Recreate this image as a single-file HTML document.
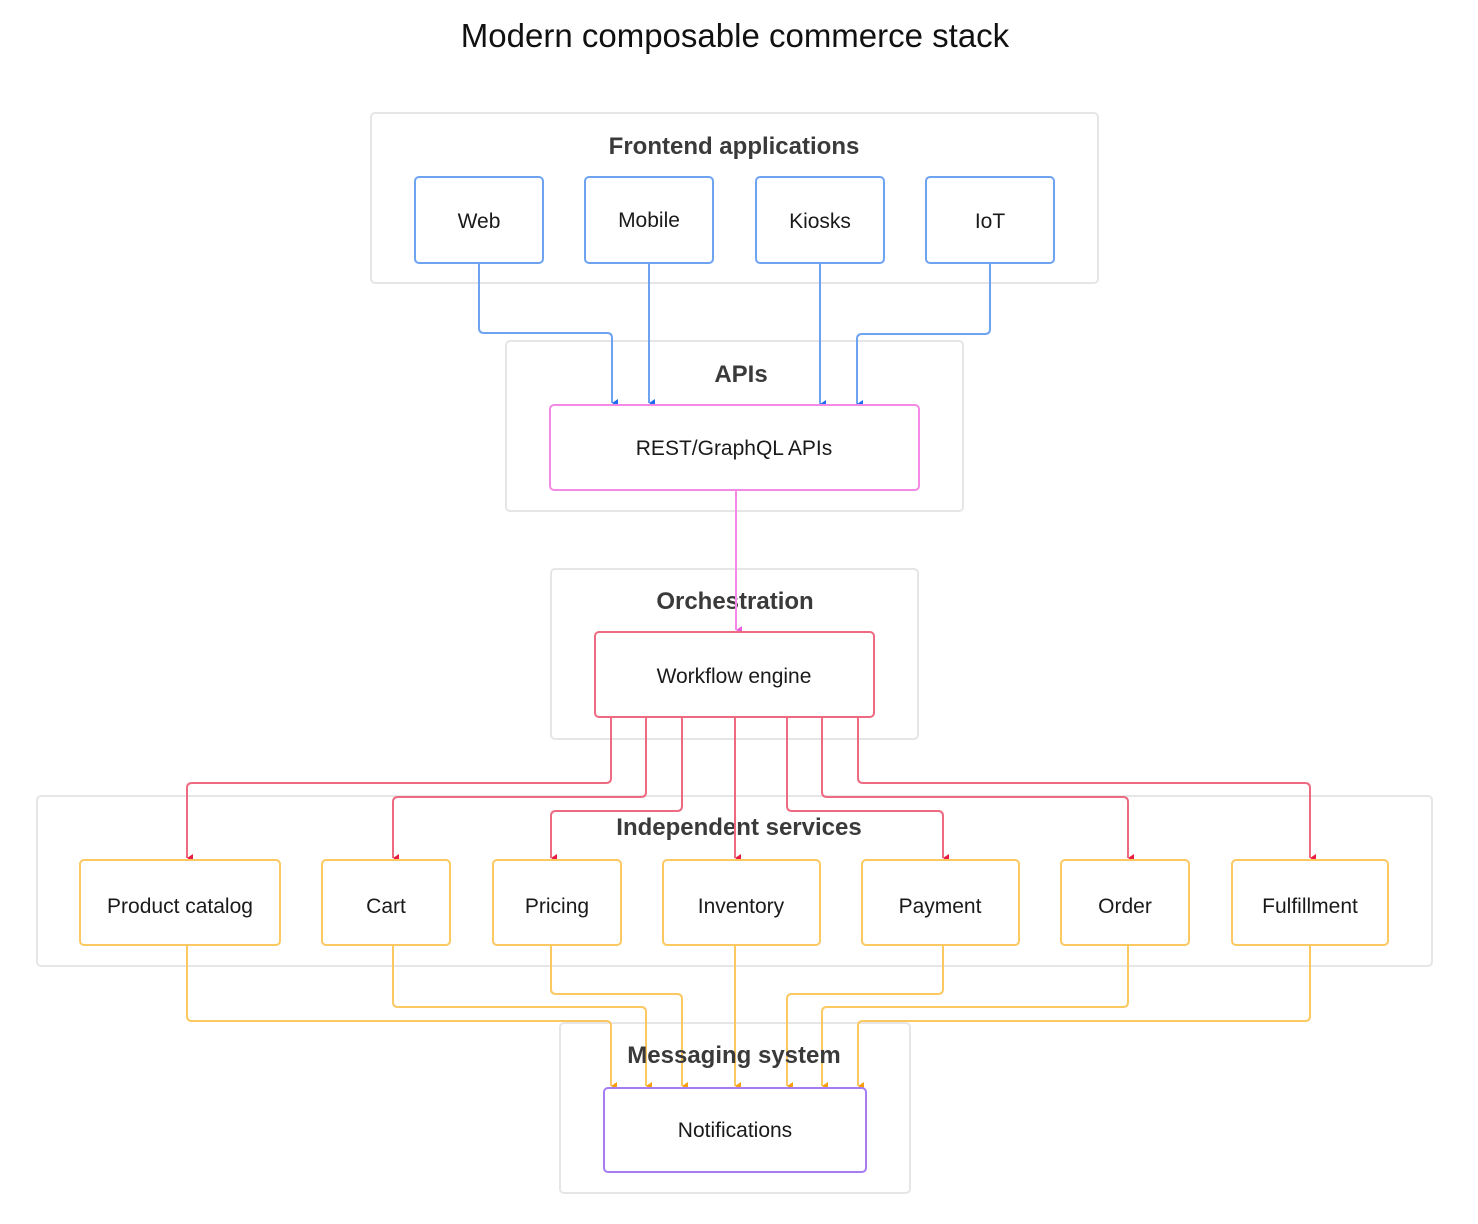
<!DOCTYPE html>
<html><head><meta charset="utf-8"><style>
html,body{margin:0;padding:0;background:#fff;}
svg{display:block;}
text{font-family:"Liberation Sans",sans-serif;}
.g{fill:#fff;stroke:#e6e6e6;stroke-width:2;}
.gl{font-size:24px;font-weight:bold;fill:#3a3a3a;text-anchor:middle;}
.nl{font-size:21px;fill:#1a1a1a;text-anchor:middle;}
.b{fill:#fff;stroke:#6ea3f2;stroke-width:2;}
.bl{fill:none;stroke:#6ea3f2;stroke-width:2;}
.r{fill:none;stroke:#ee6a80;stroke-width:2;}
.y{fill:none;stroke:#fcc862;stroke-width:2;}
</style></head><body>
<svg width="1478" height="1224" viewBox="0 0 1478 1224" xmlns="http://www.w3.org/2000/svg">
<defs>
<marker id="ab" markerWidth="10" markerHeight="10" refX="5" refY="8" orient="auto" markerUnits="userSpaceOnUse"><path d="M1,2 L9,2 L5,8 Z" fill="#1e6ef0"/></marker>
<marker id="ap" markerWidth="10" markerHeight="10" refX="5" refY="8" orient="auto" markerUnits="userSpaceOnUse"><path d="M1,2 L9,2 L5,8 Z" fill="#e860d8"/></marker>
<marker id="ar" markerWidth="10" markerHeight="10" refX="5" refY="8" orient="auto" markerUnits="userSpaceOnUse"><path d="M1,2 L9,2 L5,8 Z" fill="#e81e40"/></marker>
<marker id="ay" markerWidth="10" markerHeight="10" refX="5" refY="8" orient="auto" markerUnits="userSpaceOnUse"><path d="M1,2 L9,2 L5,8 Z" fill="#f5a010"/></marker>
</defs>
<text x="735" y="47" text-anchor="middle" font-size="33" fill="#111">Modern composable commerce stack</text>

<!-- groups -->
<rect class="g" x="371" y="113" width="727" height="170" rx="4"/>
<rect class="g" x="506" y="341" width="457" height="170" rx="4"/>
<rect class="g" x="551" y="569" width="367" height="170" rx="4"/>
<rect class="g" x="37" y="796" width="1395" height="170" rx="4"/>
<rect class="g" x="560" y="1023" width="350" height="170" rx="4"/>

<text class="gl" x="734" y="154">Frontend applications</text>
<text class="gl" x="741" y="382">APIs</text>

<!-- frontend nodes -->
<rect class="b" x="415" y="177" width="128" height="86" rx="4"/>
<rect class="b" x="585" y="177" width="128" height="86" rx="4"/>
<rect class="b" x="756" y="177" width="128" height="86" rx="4"/>
<rect class="b" x="926" y="177" width="128" height="86" rx="4"/>
<text class="nl" x="479" y="228">Web</text>
<text class="nl" x="649" y="227">Mobile</text>
<text class="nl" x="820" y="228">Kiosks</text>
<text class="nl" x="990" y="228">IoT</text>

<!-- blue connectors -->
<path class="bl" d="M479,263 V328 Q479,333 484,333 H607 Q612,333 612,338 V403" marker-end="url(#ab)"/>
<path class="bl" d="M649,263 V403" marker-end="url(#ab)"/>
<path class="bl" d="M820,263 V404" marker-end="url(#ab)"/>
<path class="bl" d="M990,263 V329 Q990,334 985,334 H862 Q857,334 857,339 V404" marker-end="url(#ab)"/>

<!-- API node -->
<rect x="550" y="405" width="369" height="85" rx="4" fill="#fff" stroke="#f48ae6" stroke-width="2"/>
<text class="nl" x="734" y="455">REST/GraphQL APIs</text>

<text class="gl" x="735" y="609">Orchestration</text>
<path d="M736,490 V630" fill="none" stroke="#f48ae6" stroke-width="2" marker-end="url(#ap)"/>

<rect x="595" y="632" width="279" height="85" rx="4" fill="#fff" stroke="#ee6a80" stroke-width="2"/>
<text class="nl" x="734" y="683">Workflow engine</text>

<text class="gl" x="739" y="835">Independent services</text>

<!-- red connectors -->
<path class="r" d="M611,717 V778 Q611,783 606,783 H192 Q187,783 187,788 V858" marker-end="url(#ar)"/>
<path class="r" d="M646,717 V792 Q646,797 641,797 H398 Q393,797 393,802 V858" marker-end="url(#ar)"/>
<path class="r" d="M682,717 V806 Q682,811 677,811 H556 Q551,811 551,816 V858" marker-end="url(#ar)"/>
<path class="r" d="M735,717 V858" marker-end="url(#ar)"/>
<path class="r" d="M787,717 V806 Q787,811 792,811 H938 Q943,811 943,816 V858" marker-end="url(#ar)"/>
<path class="r" d="M822,717 V792 Q822,797 827,797 H1123 Q1128,797 1128,802 V858" marker-end="url(#ar)"/>
<path class="r" d="M858,717 V778 Q858,783 863,783 H1305 Q1310,783 1310,788 V858" marker-end="url(#ar)"/>

<!-- service nodes -->
<g fill="#fff" stroke="#fcc862" stroke-width="2">
<rect x="80" y="860" width="200" height="85" rx="4"/>
<rect x="322" y="860" width="128" height="85" rx="4"/>
<rect x="493" y="860" width="128" height="85" rx="4"/>
<rect x="663" y="860" width="157" height="85" rx="4"/>
<rect x="862" y="860" width="157" height="85" rx="4"/>
<rect x="1061" y="860" width="128" height="85" rx="4"/>
<rect x="1232" y="860" width="156" height="85" rx="4"/>
</g>
<text class="nl" x="180" y="913">Product catalog</text>
<text class="nl" x="386" y="913">Cart</text>
<text class="nl" x="557" y="913">Pricing</text>
<text class="nl" x="741" y="913">Inventory</text>
<text class="nl" x="940" y="913">Payment</text>
<text class="nl" x="1125" y="913">Order</text>
<text class="nl" x="1310" y="913">Fulfillment</text>

<!-- yellow connectors -->
<path class="y" d="M187,945 V1016 Q187,1021 192,1021 H606 Q611,1021 611,1026 V1086" marker-end="url(#ay)"/>
<path class="y" d="M393,945 V1002 Q393,1007 398,1007 H641 Q646,1007 646,1012 V1086" marker-end="url(#ay)"/>
<path class="y" d="M551,945 V989 Q551,994 556,994 H677 Q682,994 682,999 V1086" marker-end="url(#ay)"/>
<path class="y" d="M735,945 V1086" marker-end="url(#ay)"/>
<path class="y" d="M943,945 V989 Q943,994 938,994 H792 Q787,994 787,999 V1086" marker-end="url(#ay)"/>
<path class="y" d="M1128,945 V1002 Q1128,1007 1123,1007 H827 Q822,1007 822,1012 V1086" marker-end="url(#ay)"/>
<path class="y" d="M1310,945 V1016 Q1310,1021 1305,1021 H863 Q858,1021 858,1026 V1086" marker-end="url(#ay)"/>

<text class="gl" x="734" y="1063">Messaging system</text>

<rect x="604" y="1088" width="262" height="84" rx="4" fill="#fff" stroke="#a67cf2" stroke-width="2"/>
<text class="nl" x="735" y="1137">Notifications</text>
</svg>
</body></html>
